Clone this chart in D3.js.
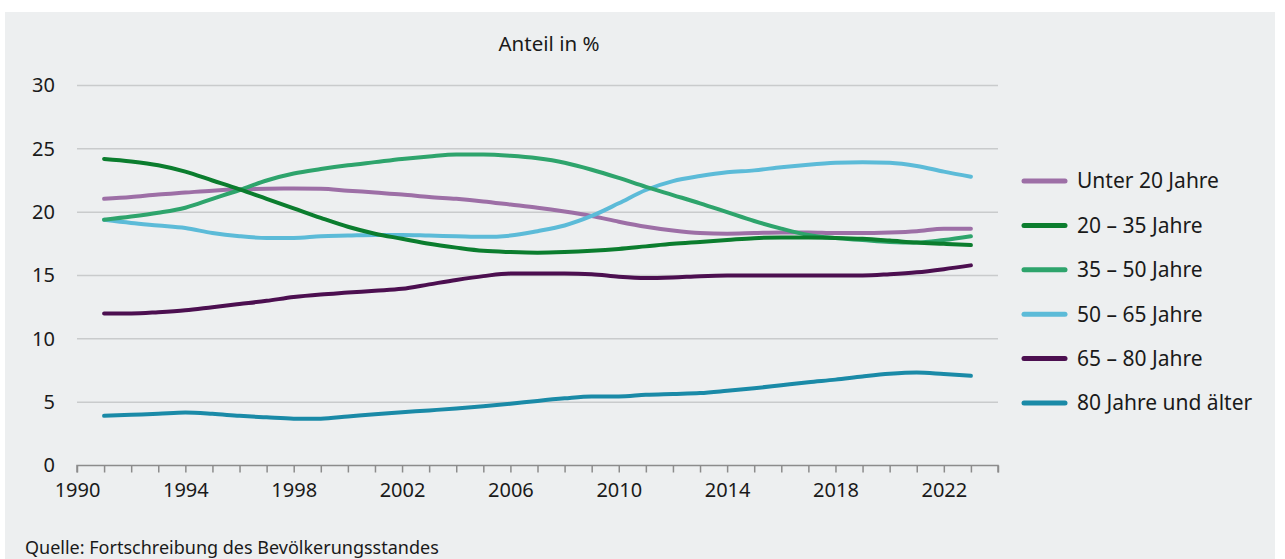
<!DOCTYPE html>
<html lang="de">
<head>
<meta charset="utf-8">
<script src="https://cdn.jsdelivr.net/npm/d3@7"></script>
<style>
  html, body { margin: 0; padding: 0; background: #ffffff; }
  svg { display: block; }
  text { font-family: "Noto Sans", "Open Sans", sans-serif; fill: #1a1a1a; }
</style>
</head>
<body>
<svg id="chart" width="1285" height="559"></svg>
<script>
// Altersstruktur der Bevölkerung, Anteil in %
const years = d3.range(1991, 2024);

const under20 = [21.05, 21.2, 21.4, 21.55, 21.7, 21.8, 21.85, 21.87, 21.85, 21.7, 21.55, 21.4, 21.2, 21.05, 20.85, 20.6, 20.35, 20.05, 19.7, 19.25, 18.85, 18.55, 18.35, 18.3, 18.35, 18.4, 18.4, 18.35, 18.35, 18.4, 18.5, 18.7, 18.7];
const age20to35 = [24.2, 24.0, 23.7, 23.2, 22.5, 21.8, 21.05, 20.3, 19.55, 18.85, 18.3, 17.9, 17.5, 17.2, 16.95, 16.85, 16.8, 16.85, 16.95, 17.1, 17.3, 17.5, 17.65, 17.8, 17.95, 18.0, 18.0, 17.97, 17.9, 17.76, 17.6, 17.5, 17.4];
const age35to50 = [19.4, 19.65, 19.95, 20.35, 21.05, 21.75, 22.5, 23.05, 23.4, 23.7, 23.95, 24.2, 24.4, 24.55, 24.55, 24.45, 24.25, 23.9, 23.35, 22.7, 22.0, 21.35, 20.7, 20.0, 19.3, 18.7, 18.2, 17.95, 17.8, 17.65, 17.6, 17.8, 18.1];
const age50to65 = [19.4, 19.15, 18.95, 18.75, 18.35, 18.1, 17.97, 17.97, 18.1, 18.15, 18.2, 18.2, 18.15, 18.1, 18.05, 18.15, 18.5, 18.95, 19.7, 20.7, 21.75, 22.45, 22.85, 23.15, 23.3, 23.55, 23.75, 23.9, 23.95, 23.9, 23.65, 23.2, 22.8];
const age65to80 = [12.0, 12.0, 12.1, 12.25, 12.5, 12.75, 13.0, 13.3, 13.5, 13.65, 13.8, 13.95, 14.3, 14.65, 14.95, 15.15, 15.15, 15.15, 15.1, 14.9, 14.8, 14.85, 14.95, 15.0, 15.0, 15.0, 15.0, 15.0, 15.0, 15.1, 15.25, 15.5, 15.8];
const age80plus = [3.92, 4.0, 4.08, 4.18, 4.08, 3.92, 3.8, 3.7, 3.7, 3.87, 4.05, 4.2, 4.35, 4.5, 4.67, 4.87, 5.1, 5.3, 5.45, 5.45, 5.58, 5.65, 5.72, 5.9, 6.1, 6.34, 6.58, 6.78, 7.03, 7.24, 7.34, 7.22, 7.08];

const seriesNames = ["Unter 20 Jahre", "20 – 35 Jahre", "35 – 50 Jahre", "50 – 65 Jahre", "65 – 80 Jahre", "80 Jahre und älter"];
const seriesValues = [under20, age20to35, age35to50, age50to65, age65to80, age80plus];
const seriesColors = ["#9d6fa6", "#0b7d2e", "#2ea46c", "#5cbbd8", "#4c0f50", "#1a8aa7"];

const xTickYears = [1990, 1994, 1998, 2002, 2006, 2010, 2014, 2018, 2022];
const yTicks = [0, 5, 10, 15, 20, 25, 30];

const svg = d3.select("#chart");

// background panel
svg.append("rect")
  .attr("x", 5).attr("y", 12)
  .attr("width", 1270).attr("height", 560)
  .attr("fill", "#edeff0");

const x = d3.scaleLinear().domain([1990, 2024]).range([77, 998]);
const y = d3.scaleLinear().domain([0, 30]).range([465.5, 85.5]);

// horizontal gridlines
const grid = svg.append("g").attr("class", "grid");
grid.selectAll("line")
  .data(yTicks.filter(d => d > 0))
  .join("line")
  .attr("x1", x(1990)).attr("x2", x(2024))
  .attr("y1", d => y(d)).attr("y2", d => y(d))
  .attr("stroke", "#c9cbcc")
  .attr("stroke-width", 1.5);

// y tick labels
const yAxis = d3.axisLeft(y).tickValues(yTicks).tickSize(0).tickPadding(22);
svg.append("g")
  .attr("transform", `translate(${x(1990)},0)`)
  .call(yAxis)
  .call(g => g.select(".domain").remove())
  .call(g => g.selectAll("text")
    .attr("font-size", 20)
    .attr("fill", "#1a1a1a")
    .style("font-family", '"Noto Sans", sans-serif'));

// x axis with yearly ticks, labels every four years
const xAxis = d3.axisBottom(x)
  .tickValues(d3.range(1990, 2025))
  .tickSize(7)
  .tickPadding(10)
  .tickFormat(d => xTickYears.includes(d) ? String(d) : "");
svg.append("g")
  .attr("transform", `translate(0,${y(0)})`)
  .call(xAxis)
  .call(g => g.select(".domain").attr("stroke", "#8c8c8c").attr("stroke-width", 1.5).attr("d", `M${x(1990)},7V0H${x(2024)}V7`))
  .call(g => g.selectAll(".tick line").attr("stroke", "#8c8c8c").attr("stroke-width", 1.5))
  .call(g => g.selectAll("text")
    .attr("font-size", 20)
    .attr("fill", "#1a1a1a")
    .style("font-family", '"Noto Sans", sans-serif'));

// lines
const line = d3.line()
  .x((d, i) => x(years[i]))
  .y(d => y(d))
  .curve(d3.curveMonotoneX);

const drawOrder = [0, 3, 2, 1, 4, 5];
svg.append("g")
  .selectAll("path")
  .data(drawOrder)
  .join("path")
  .attr("d", i => line(seriesValues[i]))
  .attr("fill", "none")
  .attr("stroke", i => seriesColors[i])
  .attr("stroke-width", 4)
  .attr("stroke-linecap", "round")
  .attr("stroke-linejoin", "round");

// title
svg.append("text")
  .attr("x", 549).attr("y", 51)
  .attr("text-anchor", "middle")
  .attr("font-size", 20.5)
  .text("Anteil in %");

// legend
const legend = svg.append("g").attr("transform", "translate(1024,181)");
const items = legend.selectAll("g")
  .data(seriesNames)
  .join("g")
  .attr("transform", (d, i) => `translate(0,${i * 44.4})`);
items.append("line")
  .attr("x1", 0).attr("x2", 41)
  .attr("y1", 0).attr("y2", 0)
  .attr("stroke", (d, i) => seriesColors[i])
  .attr("stroke-width", 5)
  .attr("stroke-linecap", "round");
items.append("text")
  .attr("x", 53).attr("y", 0)
  .attr("dy", "0.35em")
  .attr("font-size", 21)
  .text(d => d);

// source note
svg.append("text")
  .attr("x", 25).attr("y", 554)
  .attr("font-size", 18)
  .text("Quelle: Fortschreibung des Bevölkerungsstandes");
</script>
</body>
</html>
